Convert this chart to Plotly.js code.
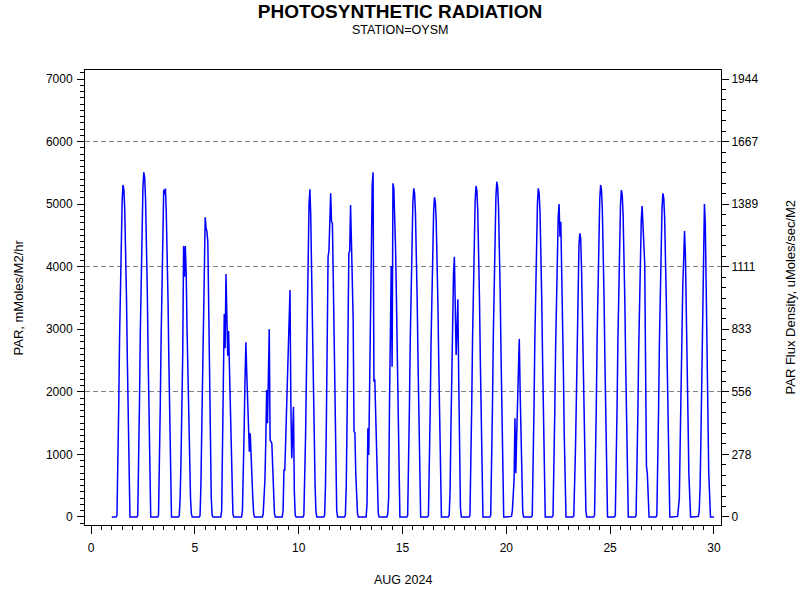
<!DOCTYPE html>
<html>
<head>
<meta charset="utf-8">
<script src="https://cdn.plot.ly/plotly-3.0.1.min.js"></script>
<style>body{margin:0;background:#fff}#chart{width:800px;height:600px}</style>
</head>
<body>
<div id="chart"></div>
<script>
// Hour of day for each reading within a day
const hoursOfDay = [0, 5, 6, 7, 8, 9, 10, 11, 12, 13, 14, 15, 16, 17, 18, 19, 20, 21];
// PAR (mMoles/M2/hr) per day of August 2024, readings at hoursOfDay
const d01 = [0, 0, 27, 690, 1751, 2865, 3820, 4563, 5067, 5306, 5226, 4908, 4298, 3502, 2494, 1380, 371, 0];
const d02 = [0, 0, 28, 716, 1818, 2975, 3966, 4738, 5261, 5509, 5426, 5096, 4462, 3636, 2589, 1432, 386, 0];
const d03 = [0, 0, 26, 683, 1733, 2835, 3780, 4520, 5230, 5160, 5250, 4860, 4250, 3470, 2470, 1370, 370, 0];
const d04 = [0, 0, 20, 300, 900, 1600, 2600, 4330, 3840, 4330, 3900, 3000, 2300, 1500, 800, 300, 50, 0];
const d05 = [0, 0, 20, 500, 1400, 2400, 3400, 4300, 4790, 4620, 4560, 4400, 3300, 2100, 1000, 300, 30, 0];
const d06 = [0, 0, 0, 100, 900, 2200, 3244, 2696, 3884, 3300, 2578, 2973, 2400, 1700, 1000, 400, 50, 0];
const d07 = [0, 0, 0, 100, 600, 1400, 2200, 2792, 2300, 1900, 1443, 1044, 1337, 900, 600, 300, 60, 0];
const d08 = [0, 0, 0, 50, 250, 590, 1200, 2030, 1500, 2300, 3000, 1230, 1200, 1180, 800, 350, 60, 0];
const d09 = [0, 0, 100, 750, 750, 1200, 1977, 2163, 2600, 3100, 3628, 1800, 938, 1300, 1763, 400, 30, 0];
const d10 = [0, 0, 30, 500, 1300, 2300, 3300, 4300, 5000, 5237, 4800, 3900, 2900, 2000, 1200, 500, 80, 0];
const d11 = [0, 0, 30, 500, 1500, 2900, 4160, 4250, 4800, 5173, 4720, 4690, 3800, 2700, 1600, 700, 100, 0];
const d12 = [0, 0, 30, 500, 1600, 3000, 4214, 4250, 4986, 4400, 3500, 3148, 1363, 1350, 700, 300, 50, 0];
const d13 = [0, 0, 0, 200, 1417, 990, 2200, 3500, 4600, 5300, 5509, 2163, 2200, 1700, 1000, 400, 60, 0];
const d14 = [0, 0, 0, 50, 300, 1800, 3400, 4011, 2400, 5333, 5250, 4900, 4300, 3500, 2500, 1400, 350, 0];
const d15 = [0, 0, 26, 683, 1733, 2837, 3782, 4518, 5017, 5253, 5174, 4859, 4255, 3467, 2469, 1366, 368, 0];
const d16 = [0, 0, 26, 664, 1686, 2759, 3679, 4395, 4880, 5110, 5033, 4727, 4139, 3373, 2402, 1329, 358, 0];
const d17 = [0, 0, 30, 400, 1400, 2500, 3400, 3900, 4160, 3400, 2589, 3000, 3479, 2200, 900, 150, 0, 0];
const d18 = [0, 0, 26, 688, 1746, 2857, 3809, 4549, 5052, 5290, 5211, 4893, 4285, 3491, 2486, 1375, 370, 0];
const d19 = [0, 0, 27, 697, 1768, 2894, 3858, 4609, 5118, 5359, 5279, 4957, 4341, 3537, 2519, 1393, 375, 0];
const d20 = [0, 0, 10, 100, 300, 600, 1577, 700, 1300, 1900, 2500, 2845, 2000, 1100, 400, 80, 0, 0];
const d21 = [0, 0, 26, 680, 1730, 2840, 3780, 4520, 5020, 5253, 5170, 4860, 4250, 3460, 2470, 1360, 365, 0];
const d22 = [0, 0, 26, 650, 1650, 2700, 3600, 4300, 4800, 5002, 4480, 4720, 4050, 3300, 2350, 1300, 350, 0];
const d23 = [0, 0, 20, 400, 1100, 1900, 2800, 3700, 4350, 4533, 4450, 3950, 3200, 2300, 1400, 600, 100, 0];
const d24 = [0, 0, 27, 690, 1750, 2860, 3820, 4560, 5070, 5306, 5230, 4910, 4300, 3500, 2490, 1380, 370, 0];
const d25 = [0, 0, 26, 679, 1725, 2822, 3763, 4494, 4991, 5226, 5148, 4834, 4233, 3449, 2456, 1359, 366, 0];
const d26 = [0, 0, 25, 600, 1600, 2650, 3550, 4250, 4750, 4970, 4700, 4300, 4043, 2400, 804, 700, 150, 0];
const d27 = [0, 0, 26, 672, 1707, 2793, 3725, 4449, 4940, 5173, 5095, 4785, 4190, 3414, 2431, 1345, 362, 0];
const d28 = [0, 0, 10, 150, 300, 1200, 2300, 3300, 3708, 4100, 4571, 4200, 3500, 2600, 1600, 700, 100, 0];
const d29 = [0, 0, 10, 100, 500, 1300, 2300, 3400, 4400, 5002, 4700, 3900, 2800, 1700, 700, 100, 0, 0];
const d30 = [0];
const dayNumbers = [1,2,3,4,5,6,7,8,9,10,11,12,13,14,15,16,17,18,19,20,21,22,23,24,25,26,27,28,29,30];
const dayReadings = [d01,d02,d03,d04,d05,d06,d07,d08,d09,d10,d11,d12,d13,d14,d15,d16,d17,d18,d19,d20,d21,d22,d23,d24,d25,d26,d27,d28,d29,d30];

// Axis labels / ticks
const titleText = 'PHOTOSYNTHETIC RADIATION';
const subtitleText = 'STATION=OYSM';
const xTitle = 'AUG 2024';
const yTitleLeft = 'PAR, mMoles/M2/hr';
const yTitleRight = 'PAR Flux Density, uMoles/sec/M2';
const gridValues = [2000, 4000, 6000];
const fluxFactor = 3.6; // mMoles/M2/hr -> uMoles/sec/M2

const xs = [], ys = [];
dayNumbers.forEach((d, i) => {
  dayReadings[i].forEach((v, j) => {
    xs.push(d + hoursOfDay[j] / 24);
    ys.push(v);
  });
});

const yRange = [-128, 7144];
const traces = [
  {x: xs, y: ys, type: 'scatter', mode: 'lines', line: {color: '#0000ff', width: 1.5}, hoverinfo: 'x+y'},
  {x: [null], y: [null], yaxis: 'y2', type: 'scatter', mode: 'lines', hoverinfo: 'skip'},
  {x: [null], y: [null], yaxis: 'y3', type: 'scatter', mode: 'lines', hoverinfo: 'skip'}
];

const font = 'Liberation Sans, Arial, Helvetica, sans-serif';
const layout = {
  width: 800, height: 600,
  margin: {l: 85, r: 79, t: 70, b: 75},
  paper_bgcolor: '#ffffff', plot_bgcolor: '#ffffff',
  showlegend: false,
  font: {family: font, size: 12, color: '#000000'},
  title: {text: '<b>' + titleText + '</b>', font: {family: font, size: 19, color: '#000'},
          x: 0.5, xref: 'container', xanchor: 'center', y: 1 - 11.5/600, yref: 'container', yanchor: 'middle'},
  xaxis: {
    range: [-0.29, 30.34], tickmode: 'linear', tick0: 0, dtick: 5,
    ticks: 'outside', ticklen: 8, tickwidth: 1, tickcolor: '#000',
    showline: true, linecolor: '#000', linewidth: 1, mirror: true,
    showgrid: false, zeroline: false, ticklabelstandoff: 4,
    tickfont: {size: 12},
    minor: {tick0: 0, dtick: 0.5, ticks: 'outside', ticklen: 4, tickcolor: '#000', showgrid: false}
  },
  yaxis: {
    range: yRange, tickmode: 'linear', tick0: 0, dtick: 1000,
    ticks: 'outside', ticklen: 7, tickwidth: 1, tickcolor: '#000',
    showline: true, linecolor: '#000', linewidth: 1, ticklabelstandoff: 2,
    showgrid: false, zeroline: false, tickfont: {size: 12},
    minor: {tick0: 0, dtick: 100, ticks: 'outside', ticklen: 4, tickcolor: '#000', showgrid: false}
  },
  yaxis2: {
    overlaying: 'y', side: 'right', anchor: 'x',
    range: [yRange[0] / fluxFactor, yRange[1] / fluxFactor],
    tickmode: 'linear', tick0: 0, dtick: 1000 / fluxFactor, tickformat: '.0f',
    ticks: 'outside', ticklen: 7, tickwidth: 1, tickcolor: '#000',
    showline: true, linecolor: '#000', linewidth: 1,
    showgrid: false, zeroline: false, tickfont: {size: 12},
    minor: {tick0: 0, dtick: 1000 / fluxFactor / 6, ticks: 'outside', ticklen: 4, tickcolor: '#000', showgrid: false}
  },
  yaxis3: {
    overlaying: 'y', anchor: 'x', range: yRange,
    tickmode: 'array', tickvals: gridValues, showticklabels: false, ticks: '',
    showgrid: true, gridcolor: '#808080', gridwidth: 1, griddash: '5px,3px',
    showline: false, zeroline: false
  },
  annotations: [
    {text: subtitleText, xref: 'paper', yref: 'paper', x: (400-85)/636, y: (525-30)/455,
     xanchor: 'center', yanchor: 'middle', showarrow: false, font: {size: 12.5}},
    {text: xTitle, xref: 'paper', yref: 'paper', x: 0.5, y: (525-580)/455,
     xanchor: 'center', yanchor: 'middle', showarrow: false, font: {size: 12.5}},
    {text: yTitleLeft, xref: 'paper', yref: 'paper', x: (18-85)/636, y: 0.5, textangle: -90,
     xanchor: 'center', yanchor: 'middle', showarrow: false, font: {size: 13}},
    {text: yTitleRight, xref: 'paper', yref: 'paper', x: (790-85)/636, y: 0.5, textangle: -90,
     xanchor: 'center', yanchor: 'middle', showarrow: false, font: {size: 13}}
  ]
};

Plotly.newPlot('chart', traces, layout, {displayModeBar: false, staticPlot: true});
</script>
</body>
</html>
